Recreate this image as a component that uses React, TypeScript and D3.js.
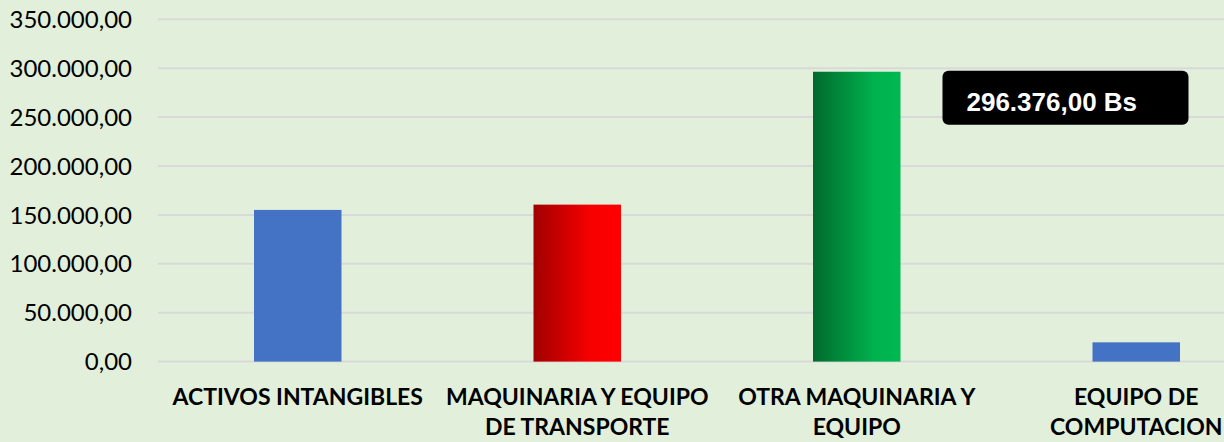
import React from "react";
import * as d3 from "d3";

const categories: string[] = [
  "ACTIVOS INTANGIBLES",
  "MAQUINARIA Y EQUIPO\nDE TRANSPORTE",
  "OTRA MAQUINARIA Y\nEQUIPO",
  "EQUIPO DE\nCOMPUTACION",
];
const values: number[] = [155100, 160500, 296376, 19700];
const yTicks: number[] = [0, 50000, 100000, 150000, 200000, 250000, 300000, 350000];
const fills: string[] = ["#4472C4", "url(#gRed)", "url(#gGreen)", "#4472C4"];
const highlightIndex = 2;

const W = 1224;
const H = 442;

const fmt = (v: number) => {
  const s = d3.format(",.2f")(v);
  return s.replace(/,/g, "#").replace(/\./g, ",").replace(/#/g, ".");
};

export default function App() {
  const y = d3.scaleLinear().domain([0, 350000]).range([361.6, 19.3]);
  const x = d3
    .scaleBand<string>()
    .domain(categories)
    .range([158, 158 + 4 * 279.5])
    .paddingInner(0.687)
    .paddingOuter(0.3435);
  const bw = x.bandwidth();
  const hv = values[highlightIndex];
  const hx = (x(categories[highlightIndex]) as number) + bw + 42;
  const hy = y(hv) - 1;

  return (
    <svg
      width={W}
      height={H}
      style={{ position: "fixed", left: 0, top: 0, display: "block" }}
    >
      <defs>
        <linearGradient id="gRed" x1="0" x2="1" y1="0" y2="0">
          <stop offset="0" stopColor="#A00000" />
          <stop offset="0.65" stopColor="#F70000" />
          <stop offset="1" stopColor="#FF0000" />
        </linearGradient>
        <linearGradient id="gGreen" x1="0" x2="1" y1="0" y2="0">
          <stop offset="0" stopColor="#006A2C" />
          <stop offset="0.7" stopColor="#00B24E" />
          <stop offset="1" stopColor="#00B850" />
        </linearGradient>
      </defs>
      <rect x={0} y={0} width={W} height={H} fill="#E2EFDA" />
      {yTicks.map((t) => (
        <g key={t}>
          <line x1={158} x2={W} y1={y(t)} y2={y(t)} stroke="#D9D9D9" strokeWidth={2} />
          <text
            x={132}
            y={y(t)}
            dy="0.36em"
            textAnchor="end"
            fontFamily="Lato, 'Open Sans', sans-serif"
            fontSize={24}
            fill="#000"
          >
            {fmt(t)}
          </text>
        </g>
      ))}
      {categories.map((c, i) => (
        <rect
          key={c}
          x={x(c) as number}
          y={y(values[i])}
          width={bw}
          height={y(0) - y(values[i])}
          fill={fills[i]}
        />
      ))}
      {categories.map((c) => {
        const cx = (x(c) as number) + bw / 2;
        return (
          <text
            key={c}
            x={cx}
            y={405}
            textAnchor="middle"
            fontFamily="Lato, 'Open Sans', sans-serif"
            fontWeight="bold"
            fontSize={23}
            fill="#000"
          >
            {c.split("\n").map((ln, k) => (
              <tspan key={k} x={cx} dy={k === 0 ? 0 : 30}>
                {ln}
              </tspan>
            ))}
          </text>
        );
      })}
      <rect x={hx} y={hy} width={246} height={54} rx={6} fill="#000" />
      <text
        x={hx + 24}
        y={hy + 40}
        fontFamily="'Liberation Sans', Arial, sans-serif"
        fontWeight="bold"
        fontSize={26}
        fill="#fff"
      >
        {fmt(hv) + " Bs"}
      </text>
    </svg>
  );
}
